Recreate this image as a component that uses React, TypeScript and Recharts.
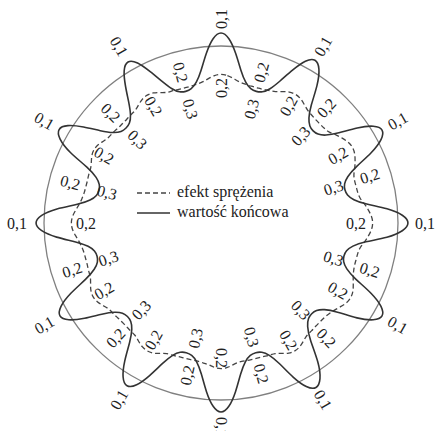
import React from 'react';
import { RadarChart, Radar, PolarGrid, PolarAngleAxis, PolarRadiusAxis, Legend, Curve } from 'recharts';

const SERIF = "'Liberation Serif', 'Times New Roman', serif";

// bearing in degrees, clockwise from the top, one step every 2.5°
const bearings = Array.from({ length: 144 }, (_, i) => i * 2.5);

// wartość końcowa – radius, one row per 30° sector
const finalR = [
  192, 186, 171, 153, 142, 137, 136, 137, 142, 153, 169, 184, // 0
  190, 184, 169, 147, 136, 131, 130, 131, 136, 147, 167, 182, // 30
  188, 182, 167, 145, 134, 129, 128, 129, 134, 145, 168, 183, // 60
  189, 183, 168, 144, 133, 128, 127, 128, 133, 144, 167, 182, // 90
  188, 182, 167, 145, 134, 129, 128, 129, 134, 145, 171, 186, // 120
  192, 186, 171, 151, 140, 135, 134, 135, 140, 151, 170, 185, // 150
  191, 185, 170, 151, 140, 135, 134, 135, 140, 151, 169, 184, // 180
  190, 184, 169, 149, 138, 133, 132, 133, 138, 149, 167, 182, // 210
  188, 182, 167, 145, 134, 129, 128, 129, 134, 145, 166, 181, // 240
  187, 181, 166, 143, 132, 127, 126, 127, 132, 143, 168, 183, // 270
  189, 183, 168, 151, 140, 135, 134, 135, 140, 151, 167, 182, // 300
  188, 182, 167, 153, 142, 137, 136, 137, 142, 153, 171, 186, // 330
];

// efekt sprężenia
const springbackR = [
  149, 148, 145, 142, 141, 140, 140, 140, 141, 142, 145, 148, // 0
  149, 148, 145, 142, 141, 140, 140, 140, 141, 145, 148, 151, // 30
  152, 151, 148, 145, 141, 140, 140, 140, 141, 145, 148, 151, // 60
  152, 151, 148, 145, 141, 140, 140, 140, 141, 143, 146, 149, // 90
  150, 149, 146, 143, 141, 140, 140, 140, 141, 141, 144, 147, // 120
  148, 147, 144, 141, 141, 140, 140, 140, 140, 140, 142, 145, // 150
  146, 145, 142, 141, 140, 140, 140, 140, 141, 141, 144, 147, // 180
  148, 147, 144, 141, 141, 140, 140, 140, 141, 141, 144, 147, // 210
  148, 147, 144, 141, 141, 140, 140, 140, 141, 143, 146, 149, // 240
  150, 149, 146, 143, 141, 140, 140, 140, 141, 141, 143, 146, // 270
  147, 146, 143, 141, 141, 140, 140, 140, 141, 141, 144, 147, // 300
  148, 147, 144, 141, 141, 140, 140, 140, 141, 142, 145, 148, // 330
];

const circleValue = 177;

// where the value labels sit
const peakBearings = [0, 30, 60, 90, 120, 150, 180, 210, 240, 270, 300, 330];
const valleyBearings = [15, 42.5, 72.5, 107.5, 137.5, 165, 192.5, 222.5, 252.5, 285, 315, 345];

const R_MAX = 240;
const LABEL_R = { peak: 204, lobe: 135, gap: 156, valley: 118 };

const data = bearings.map((b, i) => ({
  bearing: b,
  final: finalR[i],
  springback: springbackR[i],
  peakLbl: peakBearings.includes(b) ? LABEL_R.peak : null,
  lobeLbl: peakBearings.includes(b) ? LABEL_R.lobe : null,
  gapLbl: valleyBearings.includes(b) ? LABEL_R.gap : null,
  valleyLbl: valleyBearings.includes(b) ? LABEL_R.valley : null,
}));

const lineSeries = [
  { key: 'springback', name: 'efekt sprężenia', stroke: '#444', width: 1.3, dash: '5 3' },
  { key: 'final', name: 'wartość końcowa', stroke: '#333', width: 1.6, dash: undefined as string | undefined },
];

const labelSeries = [
  { key: 'peakLbl', text: '0,1' },
  { key: 'lobeLbl', text: '0,2' },
  { key: 'gapLbl', text: '0,2' },
  { key: 'valleyLbl', text: '0,3' },
];

const makeLabel = (key: string, text: string) => (props: any) => {
  const { cx, cy, index } = props;
  const row: any = data[index];
  if (!row || row[key] == null || !Number.isFinite(cx)) return <g key={`${key}-${index}`} />;
  const b = row.bearing;
  const rot = b <= 180 ? b - 90 : b - 270;
  return (
    <text
      key={`${key}-${index}`}
      x={cx}
      y={cy}
      transform={`rotate(${rot} ${cx} ${cy})`}
      textAnchor="middle"
      dominantBaseline="central"
      fontFamily={SERIF}
      fontSize={16}
      fill="#222"
    >
      {text}
    </text>
  );
};

const LegendBox = ({ payload }: any) => {
  const items = lineSeries.filter((s) => (payload || []).some((e: any) => e.dataKey === s.key));
  return (
    <div style={{ fontFamily: SERIF, fontSize: 16, lineHeight: '20px', color: '#222' }}>
      {items.map((s) => (
        <div key={s.key} style={{ display: 'flex', alignItems: 'center', whiteSpace: 'nowrap' }}>
          <svg width={40} height={20}>
            <line x1={0} x2={33} y1={11} y2={11} stroke={s.stroke} strokeWidth={1.4} strokeDasharray={s.dash} />
          </svg>
          <span>{s.name}</span>
        </div>
      ))}
    </div>
  );
};

export default function App() {
  return (
    <div style={{ position: 'absolute', left: 0, top: 0, width: 436, height: 431, background: '#fff' }}>
      <RadarChart
        width={436}
        height={431}
        data={data}
        cx={221}
        cy={223}
        outerRadius={R_MAX}
        margin={{ top: 0, right: 0, bottom: 0, left: 0 }}
      >
        <PolarGrid
          gridType="circle"
          radialLines={false}
          polarRadius={[circleValue]}
          stroke="#808080"
          strokeWidth={1.3}
        />
        <PolarAngleAxis dataKey="bearing" tick={false} axisLine={false} />
        <PolarRadiusAxis domain={[0, R_MAX]} tick={false} axisLine={false} />
        {lineSeries.map((s) => (
          <Radar
            key={s.key}
            dataKey={s.key}
            name={s.name}
            stroke={s.stroke}
            fill="none"
            dot={false}
            isAnimationActive={false}
            shape={(p: any) => (
              <Curve
                type="basisClosed"
                points={p.points}
                stroke={s.stroke}
                strokeWidth={s.width}
                strokeDasharray={s.dash}
                fill="none"
              />
            )}
          />
        ))}
        {labelSeries.map((l) => (
          <Radar
            key={l.key}
            dataKey={l.key}
            stroke="none"
            fill="none"
            legendType="none"
            dot={makeLabel(l.key, l.text)}
            isAnimationActive={false}
          />
        ))}
        <Legend
          layout="vertical"
          align="center"
          verticalAlign="middle"
          content={<LegendBox />}
          wrapperStyle={{ left: 137, top: 182, width: 'auto' }}
        />
      </RadarChart>
    </div>
  );
}
